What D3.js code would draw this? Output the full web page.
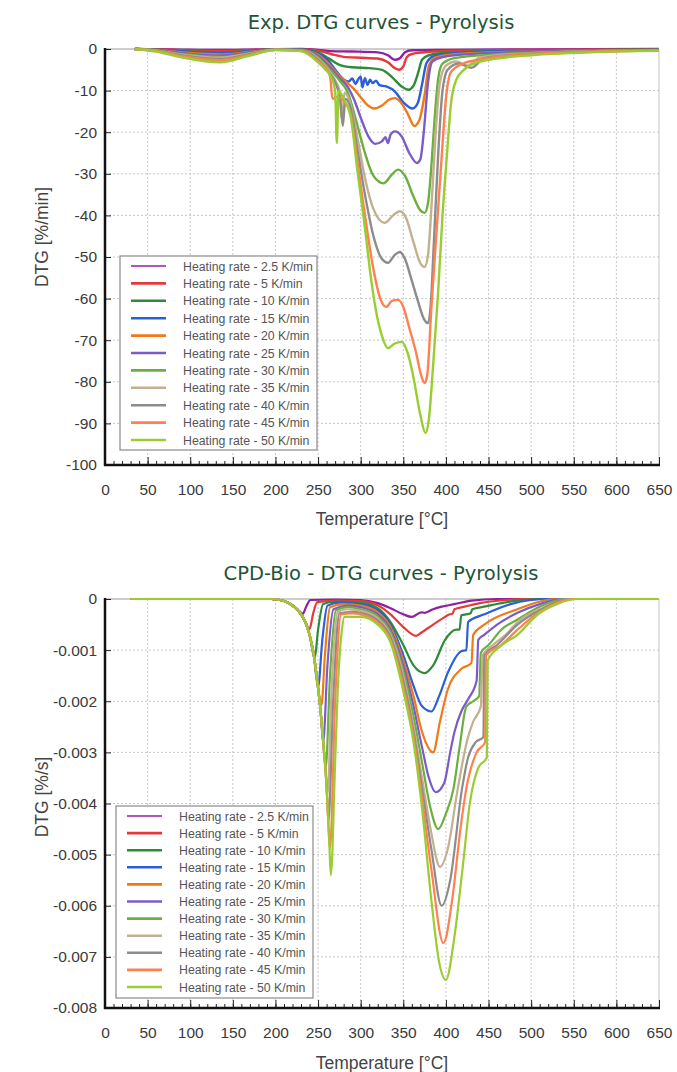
<!DOCTYPE html>
<html>
<head>
<meta charset="utf-8">
<script src="https://cdn.jsdelivr.net/npm/d3@7"></script>
<style>
body { margin: 0; background: #fff; }
svg { display: block; }
.tick text { font-family: "Liberation Sans", Arial, sans-serif; font-size: 15.5px; fill: #3a3a3a; }
.grid line { stroke: #c8c8c8; stroke-width: 1; stroke-dasharray: 2,2; }
.title { font-family: "DejaVu Sans", Verdana, sans-serif; font-size: 19.5px; fill: #1f5536; }
.axis_label { font-family: "Liberation Sans", Arial, sans-serif; font-size: 17.5px; fill: #444; }
.legend_text { font-family: "Liberation Sans", Arial, sans-serif; font-size: 12.3px; fill: #555; }
</style>
</head>
<body>
<svg id="chart" width="677" height="1072"></svg>
<script>
// heating rates and colours, same for both charts
const rates = ["2.5", "5", "10", "15", "20", "25", "30", "35", "40", "45", "50"];
const colors = ["#921fa2", "#e63a3a", "#2e8b3a", "#2b5fd9", "#f07a18", "#7a5cc8",
                "#6bb03f", "#c2b08f", "#8c8c8c", "#ff8050", "#9acd32"];

const xTicks = [0, 50, 100, 150, 200, 250, 300, 350, 400, 450, 500, 550, 600, 650];
const expYTicks = [0, -10, -20, -30, -40, -50, -60, -70, -80, -90, -100];
const cpdYTicks = [0, -0.001, -0.002, -0.003, -0.004, -0.005, -0.006, -0.007, -0.008];

// Exp. DTG curves [T degC, DTG %/min]
const exp2_5 = [[35,0],[60,-0.05],[90,-0.15],[135,-0.25],[170,-0.15],[200,-0.02],[230,0],[250,-0.2],[265,-0.5],[290,-0.6],[320,-0.8],[332,-1.5],[340,-2.6],[346,-2.2],[352,-0.8],[360,-0.3],[400,-0.2],[500,-0.1],[650,0]];
const exp5 = [[35,0],[60,-0.1],[90,-0.3],[135,-0.45],[170,-0.25],[200,-0.03],[230,-0.05],[250,-0.4],[265,-1.2],[280,-1.9],[300,-2.1],[320,-2.3],[332,-3.2],[340,-4.6],[345,-5.0],[350,-4.2],[354,-2.0],[360,-1.2],[380,-0.7],[420,-0.4],[500,-0.2],[650,-0.1]];
const exp10 = [[35,0],[60,-0.15],[90,-0.5],[135,-0.8],[170,-0.45],[200,-0.05],[230,-0.1],[250,-0.8],[262,-2.2],[275,-3.8],[290,-4.4],[310,-4.6],[325,-5.0],[337,-6.8],[348,-9.0],[356,-9.8],[362,-8.8],[367,-6.0],[372,-2.6],[380,-1.5],[400,-0.9],[450,-0.5],[650,-0.15]];
const exp15 = [[35,0],[60,-0.2],[90,-0.6],[135,-1.0],[170,-0.55],[200,-0.07],[230,-0.15],[250,-1.1],[262,-2.8],[272,-5.5],[280,-7.3],[286,-7.8],[290,-7.1],[294,-8.4],[297,-7.3],[300,-6.6],[302,-9.2],[305,-7.0],[308,-8.6],[311,-7.4],[314,-8.2],[318,-7.6],[322,-8.7],[330,-9.0],[340,-10.2],[350,-12.8],[361,-14.3],[367,-13.0],[372,-8.5],[377,-3.5],[385,-1.8],[410,-1.0],[460,-0.6],[650,-0.2]];
const exp20 = [[35,0],[60,-0.25],[90,-0.8],[135,-1.3],[170,-0.7],[200,-0.1],[230,-0.2],[250,-1.4],[262,-3.5],[275,-6.5],[285,-8.3],[292,-9.6],[300,-11.6],[308,-13.5],[316,-14.3],[325,-13.6],[333,-12.2],[340,-11.8],[347,-12.8],[355,-15.5],[363,-18.5],[369,-17.0],[375,-11.0],[380,-4.0],[388,-2.0],[420,-1.1],[470,-0.7],[650,-0.2]];
const exp25 = [[35,0],[60,-0.3],[90,-1.0],[135,-1.6],[170,-0.85],[200,-0.12],[230,-0.25],[250,-1.7],[262,-4.0],[275,-7.0],[285,-9.2],[292,-12.0],[300,-16.5],[309,-21.0],[317,-22.8],[325,-22.2],[329,-21.2],[332,-22.6],[335,-20.6],[340,-19.8],[348,-21.0],[357,-25.0],[366,-27.4],[370,-26.5],[374,-20.0],[379,-8.0],[384,-3.0],[395,-2.0],[430,-1.2],[480,-0.8],[650,-0.25]];
const exp30 = [[35,0],[60,-0.35],[90,-1.2],[135,-1.9],[170,-1.0],[200,-0.15],[230,-0.3],[250,-2.0],[262,-4.5],[275,-7.5],[285,-10.5],[295,-17.5],[305,-25.0],[315,-30.5],[327,-32.3],[336,-30.3],[344,-29.0],[352,-30.5],[362,-35.5],[370,-38.8],[375,-39.4],[379,-37.0],[383,-28.0],[387,-16.0],[391,-7.0],[396,-3.5],[410,-2.2],[450,-1.4],[500,-0.9],[650,-0.3]];
const exp35 = [[35,0],[60,-0.4],[90,-1.35],[135,-2.1],[170,-1.1],[200,-0.17],[230,-0.35],[250,-2.3],[262,-5.0],[270,-7.5],[275,-10.0],[278,-17.0],[281,-10.5],[287,-12.5],[295,-20.0],[305,-31.0],[315,-38.5],[328,-41.8],[338,-40.0],[346,-39.0],[353,-40.5],[362,-46.5],[370,-51.5],[375,-52.4],[379,-49.5],[383,-38.0],[388,-20.0],[393,-8.0],[400,-4.0],[412,-3.0],[425,-4.0],[440,-2.0],[500,-1.0],[650,-0.3]];
const exp40 = [[35,0],[60,-0.45],[90,-1.5],[135,-2.4],[170,-1.25],[200,-0.2],[230,-0.4],[250,-2.6],[262,-5.5],[270,-8.0],[276,-12.0],[279,-18.5],[282,-12.0],[288,-14.0],[296,-24.0],[305,-35.0],[315,-45.0],[325,-50.5],[332,-51.4],[340,-49.5],[346,-48.8],[352,-50.5],[359,-55.0],[367,-60.5],[374,-64.8],[379,-65.9],[382,-62.0],[386,-46.0],[391,-25.0],[396,-10.0],[402,-5.0],[415,-3.5],[430,-4.5],[445,-2.2],[500,-1.1],[650,-0.3]];
const exp45 = [[35,0],[60,-0.5],[90,-1.7],[135,-2.7],[170,-1.4],[200,-0.22],[230,-0.45],[250,-2.9],[258,-4.5],[264,-6.5],[267,-12.0],[272,-11.5],[280,-12.5],[288,-15.5],[296,-27.0],[305,-40.0],[315,-53.0],[323,-60.0],[330,-62.0],[337,-60.5],[344,-60.3],[350,-62.0],[357,-67.0],[365,-73.0],[371,-78.5],[375,-80.3],[378,-78.5],[383,-62.0],[389,-44.0],[395,-26.0],[400,-12.0],[406,-5.5],[420,-3.5],[440,-2.5],[500,-1.2],[650,-0.35]];
const exp50 = [[35,0],[60,-0.6],[90,-2.0],[135,-3.2],[170,-1.6],[200,-0.25],[230,-0.5],[250,-3.2],[258,-4.8],[266,-7.0],[270,-10.0],[272,-22.6],[274,-10.0],[280,-12.0],[288,-16.0],[296,-29.0],[305,-43.0],[312,-55.0],[318,-63.0],[325,-69.0],[332,-71.9],[340,-70.8],[348,-70.4],[355,-73.0],[362,-79.0],[370,-88.0],[376,-92.3],[380,-89.0],[385,-76.0],[391,-58.0],[396,-40.0],[401,-26.0],[406,-13.0],[412,-7.5],[421,-5.0],[440,-3.0],[500,-1.5],[650,-0.4]];
const expCurves = [exp2_5, exp5, exp10, exp15, exp20, exp25, exp30, exp35, exp40, exp45, exp50];

// CPD-Bio DTG curves [T degC, DTG %/s]
const cpd2_5 = [[30,0],[195,0],[210,-0.00004],[220,-0.00012],[227,-0.00022],[232,-0.00029],[236,-0.00015],[241,-0.00002],[270,-0.00001],[300,-0.00002],[320,-0.00008],[335,-0.00018],[350,-0.0003],[360,-0.00035],[371,-0.00026],[375,-0.00027],[385,-0.0002],[395,-0.00015],[410,-0.0001],[430,-0.00003],[460,0],[650,0]];
const cpd5 = [[30,0],[195,0],[210,-0.00004],[220,-0.00013],[228,-0.00025],[235,-0.00045],[240,-0.00059],[244,-0.0003],[249,-0.00006],[270,-0.00003],[300,-0.00004],[320,-0.00012],[335,-0.0003],[350,-0.00055],[365,-0.00072],[371,-0.00066],[385,-0.0005],[398,-0.00036],[403,-0.00031],[408,-0.00028],[410,-0.0002],[422,-0.00015],[440,-0.00008],[470,-0.00002],[490,0],[650,0]];
const cpd10 = [[30,0],[195,0],[210,-0.00004],[220,-0.00013],[228,-0.00025],[235,-0.00045],[240,-0.0007],[246,-0.00116],[250,-0.0006],[256,-0.0001],[270,-0.00005],[300,-0.00007],[320,-0.00018],[335,-0.00045],[350,-0.0009],[362,-0.0013],[375,-0.00145],[385,-0.0013],[399,-0.0008],[412,-0.0006],[416,-0.0006],[418,-0.00032],[429,-0.00028],[431,-0.0002],[445,-0.00015],[484,-0.00003],[510,0],[650,0]];
const cpd15 = [[30,0],[195,0],[210,-0.00004],[220,-0.00013],[228,-0.00025],[235,-0.00045],[240,-0.0007],[245,-0.0011],[250,-0.00172],[255,-0.0008],[261,-0.00013],[275,-0.00007],[300,-0.0001],[320,-0.00022],[335,-0.0005],[350,-0.0011],[362,-0.0017],[372,-0.0021],[383,-0.0022],[392,-0.0019],[402,-0.00145],[418,-0.00102],[424,-0.001],[426,-0.00045],[445,-0.0003],[476,-0.0001],[520,0],[650,0]];
const cpd20 = [[30,0],[195,0],[210,-0.00004],[220,-0.00013],[228,-0.00025],[235,-0.00045],[240,-0.0007],[245,-0.0011],[249,-0.0016],[254,-0.00207],[258,-0.0011],[264,-0.00016],[280,-0.0001],[300,-0.00013],[320,-0.00026],[335,-0.00055],[350,-0.0012],[362,-0.0019],[372,-0.0026],[385,-0.003],[393,-0.0024],[402,-0.00178],[418,-0.00137],[430,-0.00125],[432,-0.0007],[445,-0.0005],[484,-0.0002],[530,0],[650,0]];
const cpd25 = [[30,0],[195,0],[210,-0.00004],[220,-0.00013],[228,-0.00025],[235,-0.00045],[240,-0.0007],[245,-0.0011],[249,-0.0016],[253,-0.0022],[256,-0.0028],[261,-0.0013],[268,-0.0002],[285,-0.00013],[300,-0.00016],[320,-0.0003],[335,-0.0006],[350,-0.0013],[362,-0.0021],[372,-0.0029],[380,-0.0035],[388,-0.00378],[398,-0.0036],[405,-0.003],[410,-0.0026],[418,-0.0022],[426,-0.00196],[436,-0.0016],[438,-0.0008],[445,-0.0007],[460,-0.0005],[484,-0.00027],[510,-0.0001],[535,0],[650,0]];
const cpd30 = [[30,0],[195,0],[210,-0.00004],[220,-0.00013],[228,-0.00025],[235,-0.00045],[240,-0.0007],[245,-0.0011],[249,-0.0016],[253,-0.0022],[256,-0.0028],[259,-0.0033],[264,-0.0015],[271,-0.00022],[285,-0.00016],[300,-0.0002],[320,-0.00034],[335,-0.00065],[350,-0.0014],[362,-0.0023],[372,-0.0032],[382,-0.0041],[391,-0.0045],[400,-0.0042],[409,-0.0037],[416,-0.0029],[424,-0.0021],[432,-0.002],[439,-0.0019],[441,-0.00105],[450,-0.0009],[465,-0.0006],[484,-0.0004],[510,-0.00015],[540,0],[650,0]];
const cpd35 = [[30,0],[195,0],[210,-0.00004],[220,-0.00013],[228,-0.00025],[235,-0.00045],[240,-0.0007],[245,-0.0011],[249,-0.0016],[253,-0.0022],[256,-0.0028],[259,-0.0034],[261,-0.00383],[266,-0.0017],[273,-0.00025],[285,-0.0002],[300,-0.00023],[320,-0.00038],[335,-0.0007],[350,-0.0015],[362,-0.0025],[372,-0.0035],[382,-0.0045],[393,-0.00524],[402,-0.0049],[414,-0.0037],[425,-0.00276],[432,-0.0024],[441,-0.0021],[443,-0.0011],[455,-0.0009],[470,-0.0007],[484,-0.00045],[510,-0.0002],[545,0],[650,0]];
const cpd40 = [[30,0],[195,0],[210,-0.00004],[220,-0.00013],[228,-0.00025],[235,-0.00045],[240,-0.0007],[245,-0.0011],[249,-0.0016],[253,-0.0022],[256,-0.0028],[259,-0.0034],[261,-0.004],[262,-0.00436],[268,-0.0019],[275,-0.00028],[290,-0.00025],[300,-0.00027],[320,-0.00042],[335,-0.00075],[350,-0.0016],[362,-0.0026],[372,-0.0037],[383,-0.0049],[395,-0.006],[405,-0.0055],[419,-0.0037],[426,-0.0031],[435,-0.0028],[444,-0.0027],[445,-0.0011],[460,-0.0009],[484,-0.0005],[510,-0.00022],[545,0],[650,0]];
const cpd45 = [[30,0],[195,0],[210,-0.00004],[220,-0.00013],[228,-0.00025],[235,-0.00045],[240,-0.0007],[245,-0.0011],[249,-0.0016],[253,-0.0022],[256,-0.0028],[259,-0.0034],[261,-0.004],[264,-0.00488],[270,-0.002],[277,-0.0003],[290,-0.00028],[300,-0.0003],[320,-0.00046],[335,-0.0008],[350,-0.0017],[362,-0.0027],[372,-0.0039],[383,-0.0053],[397,-0.00673],[408,-0.0058],[417,-0.0045],[424,-0.0037],[436,-0.003],[446,-0.0028],[447,-0.0011],[465,-0.0009],[484,-0.0006],[510,-0.00025],[550,0],[650,0]];
const cpd50 = [[30,0],[195,0],[210,-0.00004],[220,-0.00013],[228,-0.00025],[235,-0.00045],[240,-0.0007],[245,-0.0011],[249,-0.0016],[253,-0.0022],[256,-0.0028],[259,-0.0034],[261,-0.004],[263,-0.0047],[265,-0.0054],[270,-0.0032],[273,-0.0018],[278,-0.0006],[281,-0.00035],[300,-0.00035],[320,-0.0005],[335,-0.00085],[350,-0.0018],[362,-0.0028],[372,-0.0041],[383,-0.0059],[392,-0.0071],[400,-0.00745],[410,-0.0066],[420,-0.0052],[428,-0.004],[438,-0.0033],[448,-0.0031],[449,-0.0012],[466,-0.0009],[484,-0.0007],[508,-0.0003],[530,-0.0001],[555,0],[650,0]];
const cpdCurves = [cpd2_5, cpd5, cpd10, cpd15, cpd20, cpd25, cpd30, cpd35, cpd40, cpd45, cpd50];

const svg = d3.select("#chart");

//draw one panel (title, grid, axes, curves, legend)
function drawPanel(cfg) {
	const left = 105, right = 659;
	const x = d3.scaleLinear().domain([0, 650]).range([left, right]);
	const y = d3.scaleLinear().domain([cfg.yMin, 0]).range([cfg.bottom, cfg.top]);
	const g = svg.append("g");

	g.append("text")
		.attr("class", "title")
		.attr("x", 381)
		.attr("y", cfg.titleY)
		.attr("text-anchor", "middle")
		.text(cfg.title);

	//grid
	const grid = g.append("g").attr("class", "grid");
	grid.selectAll(".gx")
		.data(xTicks.slice(1, -1))
		.join("line")
		.attr("x1", d => x(d)).attr("x2", d => x(d))
		.attr("y1", cfg.top).attr("y2", cfg.bottom);
	grid.selectAll(".gy")
		.data(cfg.yTicks.slice(1, -1))
		.join("line")
		.attr("x1", left).attr("x2", right)
		.attr("y1", d => y(d)).attr("y2", d => y(d));

	//frame top / right
	g.append("line")
		.attr("x1", left).attr("x2", right)
		.attr("y1", cfg.top).attr("y2", cfg.top)
		.attr("stroke", "#9a9a9a");
	g.append("line")
		.attr("x1", right).attr("x2", right)
		.attr("y1", cfg.top).attr("y2", cfg.bottom)
		.attr("stroke", "#c4c4c4");

	//curves
	const clipId = "clip_" + cfg.name;
	g.append("clipPath").attr("id", clipId)
		.append("rect")
		.attr("x", left).attr("y", cfg.top - 2)
		.attr("width", right - left).attr("height", cfg.bottom - cfg.top + 2);

	const line = d3.line()
		.x(d => x(d[0]))
		.y(d => y(d[1]))
		.curve(d3.curveMonotoneX);

	g.append("g")
		.attr("clip-path", "url(#" + clipId + ")")
		.selectAll("path")
		.data(cfg.curves)
		.join("path")
		.attr("d", line)
		.attr("fill", "none")
		.attr("stroke", (d, i) => colors[i])
		.attr("stroke-width", cfg.lineWidth)
		.attr("stroke-linejoin", "round");

	//x axis: minor + major ticks pointing up
	const minorTicks = d3.range(0, 651, 10);
	g.append("g")
		.attr("transform", "translate(0," + cfg.bottom + ")")
		.call(d3.axisBottom(x).tickValues(minorTicks).tickSize(-4).tickFormat(""))
		.call(a => a.select(".domain").remove())
		.call(a => a.selectAll("line").attr("stroke", "#222"));
	g.append("g")
		.attr("transform", "translate(0," + cfg.bottom + ")")
		.call(d3.axisBottom(x).tickValues(xTicks).tickSize(-8).tickPadding(19).tickFormat(d => String(d)))
		.call(a => a.select(".domain").remove())
		.call(a => a.selectAll("line").attr("stroke", "#222"));

	//y axis
	g.append("g")
		.attr("transform", "translate(" + left + ",0)")
		.call(d3.axisLeft(y).tickValues(cfg.yTicks).tickSize(-6).tickPadding(8).tickFormat(cfg.fmt))
		.call(a => a.select(".domain").remove())
		.call(a => a.selectAll("line").attr("stroke", "#222"));

	//main axis lines
	g.append("line")
		.attr("x1", left).attr("x2", left)
		.attr("y1", cfg.top - 1).attr("y2", cfg.bottom + 1)
		.attr("stroke", "#111").attr("stroke-width", 2.5);
	g.append("line")
		.attr("x1", left - 1).attr("x2", right + 1)
		.attr("y1", cfg.bottom).attr("y2", cfg.bottom)
		.attr("stroke", "#111").attr("stroke-width", 2.5);

	//axis labels
	g.append("text")
		.attr("class", "axis_label")
		.attr("x", 382)
		.attr("y", cfg.xLabelY)
		.attr("text-anchor", "middle")
		.text("Temperature [°C]");
	g.append("text")
		.attr("class", "axis_label")
		.attr("transform", "translate(48," + cfg.yLabelY + ") rotate(-90)")
		.attr("text-anchor", "middle")
		.text(cfg.yLabel);

	//legend
	const lg = g.append("g");
	lg.append("rect")
		.attr("x", cfg.legend.x).attr("y", cfg.legend.y)
		.attr("width", cfg.legend.w).attr("height", cfg.legend.h)
		.attr("fill", "#fff")
		.attr("stroke", "#8a8a8a")
		.attr("stroke-width", 1.2);
	const step = cfg.legend.step;
	rates.forEach(function(r, i) {
		const ly = cfg.legend.y + cfg.legend.first + i * step;
		lg.append("line")
			.attr("x1", cfg.legend.x + 11).attr("x2", cfg.legend.x + 46)
			.attr("y1", ly).attr("y2", ly)
			.attr("stroke", colors[i])
			.attr("stroke-width", i == 0 ? 1.6 : 2.6);
		lg.append("text")
			.attr("class", "legend_text")
			.attr("x", cfg.legend.x + 63)
			.attr("y", ly + 4.5)
			.text("Heating rate - " + r + " K/min");
	});
}

drawPanel({
	name: "exp",
	title: "Exp. DTG curves - Pyrolysis",
	titleY: 29,
	top: 49, bottom: 465,
	yMin: -100,
	yTicks: expYTicks,
	fmt: d => String(d),
	curves: expCurves,
	lineWidth: 2.4,
	xLabelY: 525,
	yLabelY: 237,
	yLabel: "DTG [%/min]",
	legend: { x: 120, y: 256, w: 197, h: 194, first: 10, step: 17.4 }
});

drawPanel({
	name: "cpd",
	title: "CPD-Bio - DTG curves - Pyrolysis",
	titleY: 580,
	top: 599, bottom: 1008,
	yMin: -0.008,
	yTicks: cpdYTicks,
	fmt: d => d == 0 ? "0" : d.toFixed(3),
	curves: cpdCurves,
	lineWidth: 2.2,
	xLabelY: 1069,
	yLabelY: 797,
	yLabel: "DTG [%/s]",
	legend: { x: 116, y: 806, w: 197, h: 192, first: 10, step: 17.1 }
});
</script>
</body>
</html>
